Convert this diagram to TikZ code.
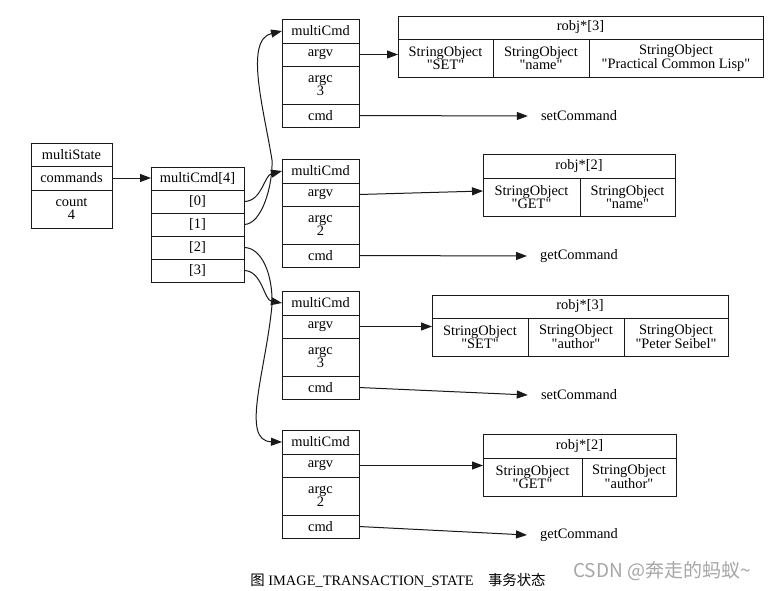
\documentclass[tikz,border=0pt]{standalone}
\usepackage{fontspec}
\setmainfont{Liberation Serif}
\newfontfamily\cjk{Noto Sans CJK SC}
\usetikzlibrary{positioning, arrows.meta}

\newcommand{\qt}[1]{\textquotedbl#1\textquotedbl}

\begin{document}
\begin{tikzpicture}[x=1pt, y=-1pt,
    font=\fontsize{14.4}{13}\selectfont,
    cell/.style={draw=black!90, line width=1pt, inner sep=0pt,
        outer sep=0pt, align=center, minimum height=23pt},
    tall/.style={cell, minimum height=38pt},
    link/.style={-{Triangle[length=11pt,width=8pt]},
        line width=1pt, black!90},
    cmdname/.style={inner xsep=13pt, inner ysep=2pt}]

    \useasboundingbox (0,0) rectangle (768,590);

    % multiState
    \node[cell, minimum width=81pt, anchor=north west]
        (state) at (31,143) {multiState};
    \node[cell, minimum width=81pt, minimum height=24pt,
        below=0pt of state] (cmds) {commands};
    \node[tall, minimum width=81pt, below=0pt of cmds]
        (count) {count\\4};

    % multiCmd[4]
    \node[cell, minimum width=93pt, anchor=north west]
        (arr) at (151,167) {multiCmd[4]};
    \node[cell, minimum width=93pt, below=0pt of arr] (i0) {[0]};
    \node[cell, minimum width=93pt, below=0pt of i0] (i1) {[1]};
    \node[cell, minimum width=93pt, below=0pt of i1] (i2) {[2]};
    \node[cell, minimum width=93pt, below=0pt of i2] (i3) {[3]};

    % the four multiCmd
    \node[cell, minimum width=77pt, minimum height=24pt, anchor=north west]
        (mcA) at (282,19) {multiCmd};
    \node[cell, minimum width=77pt, below=0pt of mcA] (argvA) {argv};
    \node[tall, minimum width=77pt, below=0pt of argvA] (argcA) {argc\\3};
    \node[cell, minimum width=77pt, below=0pt of argcA] (cmdA) {cmd};

    \node[cell, minimum width=77pt, minimum height=24pt, anchor=north west]
        (mcB) at (282,159) {multiCmd};
    \node[cell, minimum width=77pt, below=0pt of mcB] (argvB) {argv};
    \node[tall, minimum width=77pt, below=0pt of argvB] (argcB) {argc\\2};
    \node[cell, minimum width=77pt, below=0pt of argcB] (cmdB) {cmd};

    \node[cell, minimum width=77pt, minimum height=24pt, anchor=north west]
        (mcC) at (282,291) {multiCmd};
    \node[cell, minimum width=77pt, below=0pt of mcC] (argvC) {argv};
    \node[tall, minimum width=77pt, below=0pt of argvC] (argcC) {argc\\3};
    \node[cell, minimum width=77pt, below=0pt of argcC] (cmdC) {cmd};

    \node[cell, minimum width=77pt, minimum height=24pt, anchor=north west]
        (mcD) at (282,430) {multiCmd};
    \node[cell, minimum width=77pt, below=0pt of mcD] (argvD) {argv};
    \node[tall, minimum width=77pt, below=0pt of argvD] (argcD) {argc\\2};
    \node[cell, minimum width=77pt, below=0pt of argcD] (cmdD) {cmd};

    % robj arrays
    \node[cell, minimum width=365pt, anchor=north west]
        (robjA) at (398,16) {robj*[3]};
    \node[tall, minimum width=95pt, anchor=north west]
        (soA1) at (robjA.south west) {StringObject\\\qt{SET}};
    \node[tall, minimum width=96pt, right=0pt of soA1]
        (soA2) {StringObject\\\qt{name}};
    \node[tall, minimum width=174pt, right=0pt of soA2]
        (soA3) {StringObject\\\qt{Practical Common Lisp}};

    \node[cell, minimum width=192pt, minimum height=24pt, anchor=north west]
        (robjB) at (483,154) {robj*[2]};
    \node[tall, minimum width=97pt, anchor=north west]
        (soB1) at (robjB.south west) {StringObject\\\qt{GET}};
    \node[tall, minimum width=95pt, right=0pt of soB1]
        (soB2) {StringObject\\\qt{name}};

    \node[cell, minimum width=296pt, anchor=north west]
        (robjC) at (432,295) {robj*[3]};
    \node[tall, minimum width=96pt, anchor=north west]
        (soC1) at (robjC.south west) {StringObject\\\qt{SET}};
    \node[tall, minimum width=96pt, right=0pt of soC1]
        (soC2) {StringObject\\\qt{author}};
    \node[tall, minimum width=104pt, right=0pt of soC2]
        (soC3) {StringObject\\\qt{Peter Seibel}};

    \node[cell, minimum width=193pt, minimum height=24pt, anchor=north west]
        (robjD) at (483,434) {robj*[2]};
    \node[tall, minimum width=99pt, anchor=north west]
        (soD1) at (robjD.south west) {StringObject\\\qt{GET}};
    \node[tall, minimum width=94pt, right=0pt of soD1]
        (soD2) {StringObject\\\qt{author}};

    % command functions
    \node[cmdname] (setA) at (579,116) {setCommand};
    \node[cmdname] (getB) at (579,256) {getCommand};
    \node[cmdname] (setC) at (579,395) {setCommand};
    \node[cmdname] (getD) at (579,535) {getCommand};

    % links
    \draw[link] (cmds.east) -- (cmds.east -| arr.west);

    \draw[link] (i0.east) .. controls +(18,0) and +(-18,4.5) .. (mcB.west);
    \draw[link] (i1.east) .. controls +(18,0) and +(1,25) .. (272,160)
        .. controls +(-8,-50) and +(-38,9) .. (mcA.west);
    \draw[link] (i3.east) .. controls +(18,0) and +(-18,-3) .. (mcC.west);
    \draw[link] (i2.east) .. controls +(18,0) and +(1,-30) .. (272,305)
        .. controls +(-6,65) and +(-42,-1) .. (mcD.west);

    \draw[link] (argvA.east) -- (argvA.east -| soA1.west);
    \draw[link] (argvB.east) -- ([yshift=6pt]soB1.west);
    \draw[link] (argvC.east) -- (argvC.east -| soC1.west);
    \draw[link] (argvD.east) -- (argvD.east -| soD1.west);

    \draw[link] (cmdA.east) -- (setA.west);
    \draw[link] (cmdB.east) -- (getB.west);
    \draw[link] (cmdC.east) -- (setC.west);
    \draw[link] (cmdD.east) -- (getD.west);

    % caption and mark
    \node (caption) at (398,580)
        {{\cjk 图} IMAGE\_TRANSACTION\_STATE\quad{\cjk 事务状态}};
    \node[text=black!35, font=\cjk\fontsize{19}{19}\selectfont]
        (mark) at (662,571) {CSDN @奔走的蚂蚁\textasciitilde};
\end{tikzpicture}
\end{document}
